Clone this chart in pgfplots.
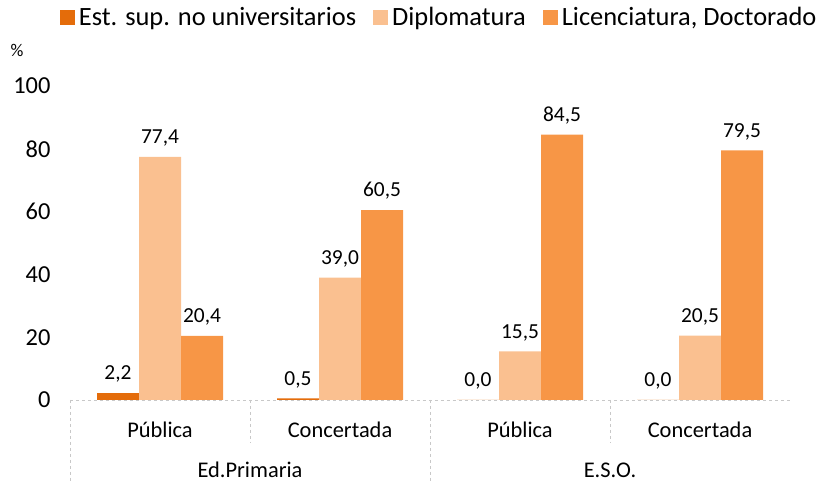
\documentclass[border=0pt]{standalone}
\usepackage{fontspec}
\setmainfont{Carlito}
\usepackage{pgfplots}
\pgfplotsset{compat=1.18}
\definecolor{c1}{HTML}{E46C0A}
\definecolor{c2}{HTML}{FAC090}
\definecolor{c3}{HTML}{F79646}
\definecolor{sep}{HTML}{C8C8C8}
\pgfplotsset{sq/.style={legend image code/.code={\fill[##1,draw=none] (0bp,-7.5bp) rectangle (15bp,7.5bp);}}}
\begin{document}
\begin{tikzpicture}[x=1bp,y=1bp]
\path[use as bounding box] (0,0) rectangle (818,483);
\begin{axis}[at={(70bp,83bp)}, anchor=south west, scale only axis,
  width=720bp, height=314bp,
  ybar=0pt, bar width=42bp,
  xmin=-0.5, xmax=3.5, ymin=0, ymax=100,
  ytick={0,20,...,100},
  xtick={0,1,2,3}, xticklabels={Pública,Concertada,Pública,Concertada},
  axis x line*=bottom, axis y line*=left,
  y axis line style={draw=none},
  x axis line style={sep, dashed, thick, -},
  major tick length=0pt,
  /pgf/number format/assume math mode=true,
  xticklabel style={font=\fontsize{22.5}{24}\selectfont, yshift=-18bp},
  yticklabel style={font=\fontsize{24.5}{26}\selectfont, xshift=-16bp},
  clip=false,
  nodes near coords,
  nodes near coords style={font=\fontsize{21.5}{23}\selectfont, yshift=7bp, /pgf/number format/.cd, use comma, fixed, fixed zerofill, precision=1, assume math mode=true},
  legend columns=3,
  legend style={at={(0.512,1.26)}, anchor=north, draw=none, fill=none,
    font=\fontsize{26.5}{28}\selectfont, nodes={inner sep=1bp},
    /tikz/every odd column/.append style={column sep=3bp},
    /tikz/every even column/.append style={column sep=16bp}},
]
\addplot[sq, fill=c1, draw=none] coordinates {(0,2.2) (1,0.5) (2,0.0) (3,0.0)};
\addplot[sq, fill=c2, draw=none] coordinates {(0,77.4) (1,39.0) (2,15.5) (3,20.5)};
\addplot[sq, fill=c3, draw=none] coordinates {(0,20.4) (1,60.5) (2,84.5) (3,79.5)};
\legend{Est. sup. no universitarios, Diplomatura, {Licenciatura, Doctorado}}
\draw[sep, dashed, thick] (axis cs:-0.5,0) -- ([yshift=-83bp]axis cs:-0.5,0);
\draw[sep, dashed, thick] (axis cs:1.5,0) -- ([yshift=-83bp]axis cs:1.5,0);
\draw[sep, dashed, thick] (axis cs:0.5,0) -- ([yshift=-42bp]axis cs:0.5,0);
\draw[sep, dashed, thick] (axis cs:2.5,0) -- ([yshift=-42bp]axis cs:2.5,0);
\node[font=\fontsize{22.5}{24}\selectfont] at ([yshift=-70bp]axis cs:0.5,0) {Ed.Primaria};
\node[font=\fontsize{22.5}{24}\selectfont] at ([yshift=-70bp]axis cs:2.5,0) {E.S.O.};
\end{axis}
\node[font=\fontsize{18}{20}\selectfont] at (17,433) {\%};
\end{tikzpicture}
\end{document}
